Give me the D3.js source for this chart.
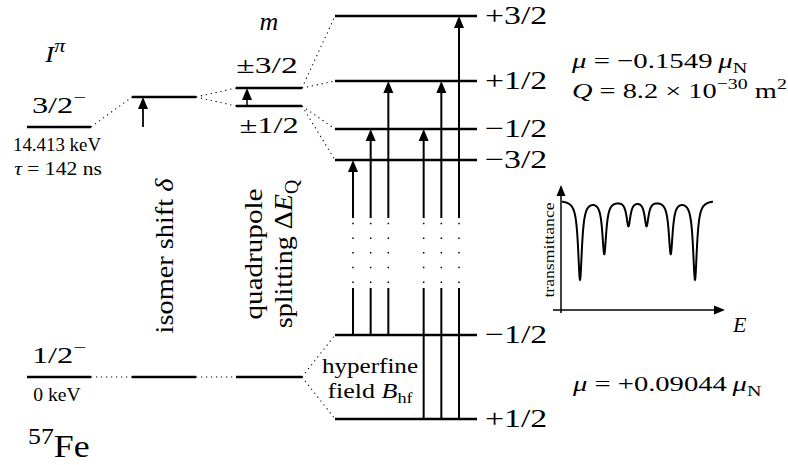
<!DOCTYPE html>
<html>
<head>
<meta charset="utf-8">
<script src="https://cdn.jsdelivr.net/npm/d3@7"></script>
<style>
  body { margin: 0; background: #fff; }
  text { font-family: 'Liberation Serif', 'Times New Roman', serif; fill: #000; }
</style>
</head>
<body>
<div id="chart"></div>
<script>
// level energies in schematic units (ground state = 0, excited state = 100)
const nucleusLevels = [100, 0];
const nucleusSpins = ['3/2', '1/2'];
const nucleusEnergies = ['14.413 keV', '0 keV'];
const isomerLevels = [112, 0];
const quadLevels = [115.6, 108.4, 0];
const quadLabels = ['±3/2', '±1/2'];
const hfLevels = [144.4, 118.4, 99.2, 86.8, 16.8, -16.8];
const hfLabels = ['+3/2', '+1/2', '−1/2', '−3/2', '−1/2', '+1/2'];

// allowed transitions: ground sublevel -> excited sublevel (indices into hfLevels)
const transFrom = [4, 4, 4, 5, 5, 5];
const transTo = [3, 2, 1, 2, 1, 0];
const transSlot = [0, 1, 2, 4, 5, 6];

// Moessbauer sextet, line positions (mm/s) and depths
const sextetPos = [-5.33, -3.08, -0.84, 0.84, 3.08, 5.33];
const sextetDepth = [0.79, 0.53, 0.25, 0.25, 0.53, 0.79];
const sextetHalfWidth = 0.22;

const width = 788, height = 465;

const svg = d3.select('#chart')
  .append('svg')
  .attr('width', width)
  .attr('height', height);

const cols = { nucleus: [27, 91], isomer: [132, 196], quad: [236, 302], hf: [335, 477] };
const y = d3.scaleLinear().domain([0, 100]).range([377, 127]);
const slotX = d3.scaleLinear().domain([0, 6]).range([353, 459]);
const gap = [35.6, 63.6]; // broken part of the transition lines

// text with italic / sub / superscript parts
function rich(sel, parts, size, supScale) {
  const t = sel.append('text').style('font-size', size + 'px');
  let cur = 0;
  parts.forEach(p => {
    const s = typeof p === 'string' ? { t: p } : p;
    const small = s.sup || s.sub;
    const target = s.sup ? -0.4 * size : s.sub ? 0.22 * size : 0;
    t.append('tspan')
      .attr('dy', target - cur)
      .style('font-size', small ? ((supScale || 0.7) * size) + 'px' : null)
      .style('font-style', s.i ? 'italic' : null)
      .text(s.t);
    cur = target;
  });
  return t;
}

// place a text, stretched along its reading direction
function place(t, x, yy, sx, anchor, rot) {
  t.attr('text-anchor', anchor || 'start')
    .attr('transform', `translate(${x},${yy})${rot ? ' rotate(-90)' : ''} scale(${sx},1)`);
  return t;
}

function level(col, e) {
  svg.append('line')
    .attr('x1', cols[col][0]).attr('x2', cols[col][1])
    .attr('y1', y(e)).attr('y2', y(e))
    .attr('stroke', 'black').attr('stroke-width', 2.5);
}

function dotted(x1, e1, x2, e2) {
  svg.append('line')
    .attr('x1', x1).attr('y1', y(e1))
    .attr('x2', x2).attr('y2', y(e2))
    .attr('stroke', 'black').attr('stroke-width', 1.1)
    .attr('stroke-dasharray', '1.2 3.8');
}

function arrowUp(x, eFrom, eTo, w) {
  const tip = y(eTo);
  svg.append('line')
    .attr('x1', x).attr('x2', x)
    .attr('y1', y(eFrom)).attr('y2', tip + 8)
    .attr('stroke', 'black').attr('stroke-width', w || 2);
  svg.append('path')
    .attr('d', `M${x},${tip} L${x - 5},${tip + 12} L${x + 5},${tip + 12} Z`)
    .attr('fill', 'black');
}

// levels
nucleusLevels.forEach(e => level('nucleus', e));
isomerLevels.forEach(e => level('isomer', e));
quadLevels.forEach(e => level('quad', e));
hfLevels.forEach(e => level('hf', e));

// dotted connectors
dotted(cols.nucleus[1], nucleusLevels[0], cols.isomer[0], isomerLevels[0]);
dotted(cols.nucleus[1], nucleusLevels[1], cols.isomer[0], isomerLevels[1]);
dotted(cols.isomer[1], isomerLevels[0], cols.quad[0], quadLevels[0]);
dotted(cols.isomer[1], isomerLevels[0], cols.quad[0], quadLevels[1]);
dotted(cols.isomer[1], isomerLevels[1], cols.quad[0], quadLevels[2]);
dotted(cols.quad[1], quadLevels[0], cols.hf[0], hfLevels[0]);
dotted(cols.quad[1], quadLevels[0], cols.hf[0], hfLevels[1]);
dotted(cols.quad[1], quadLevels[1], cols.hf[0], hfLevels[2]);
dotted(cols.quad[1], quadLevels[1], cols.hf[0], hfLevels[3]);
dotted(cols.quad[1], quadLevels[2], cols.hf[0], hfLevels[4]);
dotted(cols.quad[1], quadLevels[2], cols.hf[0], hfLevels[5]);

// isomer shift and quadrupole arrows
arrowUp(143, nucleusLevels[0], isomerLevels[0], 1.8);
arrowUp(247, quadLevels[1], quadLevels[0], 1.5);

// hyperfine transitions
transFrom.forEach((f, i) => {
  const x = slotX(transSlot[i]);
  svg.append('line')
    .attr('x1', x).attr('x2', x)
    .attr('y1', y(hfLevels[f])).attr('y2', y(gap[0]))
    .attr('stroke', 'black').attr('stroke-width', 2);
  svg.append('line')
    .attr('x1', x).attr('x2', x)
    .attr('y1', y(gap[0]) - 5).attr('y2', y(gap[1]) + 4)
    .attr('stroke', 'black').attr('stroke-width', 1.5)
    .attr('stroke-dasharray', '1.5 13.2');
  arrowUp(x, gap[1], hfLevels[transTo[i]]);
});

// labels, left column
const cx = d => (cols[d][0] + cols[d][1]) / 2;
place(rich(svg, [{ t: 'I', i: 1 }, { t: 'π', i: 1, sup: 1 }], 24, 0.8), 45, 62, 1.15);
nucleusLevels.forEach((e, i) => {
  place(rich(svg, [nucleusSpins[i], { t: '−', sup: 1 }], 24), cx('nucleus'), y(e) - 14, 1.35, 'middle');
  place(svg.append('text').style('font-size', '18px').text(nucleusEnergies[i]),
    cx('nucleus') - 2, y(e) + 24, i === 0 ? 1.05 : 1.09, 'middle');
});
place(rich(svg, [{ t: 'τ', i: 1 }, ' = 142 ns'], 18), cx('nucleus') - 1, y(nucleusLevels[0]) + 48, 1.2, 'middle');
place(rich(svg, [{ t: '57', sup: 1 }, 'Fe'], 32, 0.72), 28, 457, 1.12);

// quadrupole labels
place(rich(svg, [{ t: 'm', i: 1 }], 26), cx('quad'), 30, 1.0, 'middle');
place(svg.append('text').style('font-size', '24px').text(quadLabels[0]),
  cx('quad') - 2, y(quadLevels[0]) - 15, 1.4, 'middle');
place(svg.append('text').style('font-size', '24px').text(quadLabels[1]),
  cx('quad'), y(quadLevels[1]) + 27, 1.35, 'middle');

// hyperfine labels
hfLevels.forEach((e, i) => {
  place(svg.append('text').style('font-size', '26px').text(hfLabels[i]),
    cols.hf[1] + 8, y(e) + 8, 1.3);
});

// rotated labels
place(rich(svg, ['isomer shift ', { t: 'δ', i: 1 }], 26), 173, 256, 1.09, 'middle', true);
place(rich(svg, ['quadrupole'], 26), 262, 254, 1.12, 'middle', true);
place(rich(svg, ['splitting Δ', { t: 'E', i: 1 }, { t: 'Q', sub: 1 }], 26), 292, 254, 1.08, 'middle', true);

place(rich(svg, ['hyperfine'], 22), 370, 373, 1.14, 'middle');
place(rich(svg, ['field ', { t: 'B', i: 1 }, { t: 'hf', sub: 1 }], 22), 370, 398, 1.18, 'middle');

// moments
place(rich(svg, [{ t: 'μ', i: 1 }, ' = −0.1549\u2009', { t: 'μ', i: 1 }, { t: 'N', sub: 1 }], 22), 572, 68, 1.31);
place(rich(svg, [{ t: 'Q', i: 1 }, ' = 8.2 × 10', { t: '−30', sup: 1 }, ' m', { t: '2', sup: 1 }], 22), 572, 98, 1.29);
place(rich(svg, [{ t: 'μ', i: 1 }, ' = +0.09044\u2009', { t: 'μ', i: 1 }, { t: 'N', sub: 1 }], 22), 573, 391, 1.3);

// inset spectrum
const vx = d3.scaleLinear().domain([-7, 7]).range([562, 713]);
const ty = d3.scaleLinear().domain([0, 1]).range([300, 200]);
const axX = vx(-7) - 1, axY = ty(-0.1);

svg.append('line').attr('x1', axX).attr('x2', axX).attr('y1', axY + 3).attr('y2', 192)
  .attr('stroke', 'black').attr('stroke-width', 1.5);
svg.append('path').attr('d', `M${axX},185 L${axX - 4.5},196 L${axX + 4.5},196 Z`).attr('fill', 'black');
svg.append('line').attr('x1', axX - 8).attr('x2', 718).attr('y1', axY).attr('y2', axY)
  .attr('stroke', 'black').attr('stroke-width', 1.5);
svg.append('path').attr('d', `M725,${axY} L714,${axY - 4.5} L714,${axY + 4.5} Z`).attr('fill', 'black');

const velocities = d3.range(-7, 7.001, 0.01);
const transmission = v => 1 - d3.sum(sextetPos, (p, i) =>
  sextetDepth[i] * sextetHalfWidth * sextetHalfWidth / ((v - p) * (v - p) + sextetHalfWidth * sextetHalfWidth));

svg.append('path')
  .datum(velocities)
  .attr('fill', 'none')
  .attr('stroke', 'black')
  .attr('stroke-width', 2)
  .attr('d', d3.line().x(v => vx(v)).y(v => ty(transmission(v))));

place(svg.append('text').style('font-size', '15px').text('transmittance'), axX - 7, 250, 1.18, 'middle', true);
place(rich(svg, [{ t: 'E', i: 1 }], 22), 733, 332, 1.0);
</script>
</body>
</html>
